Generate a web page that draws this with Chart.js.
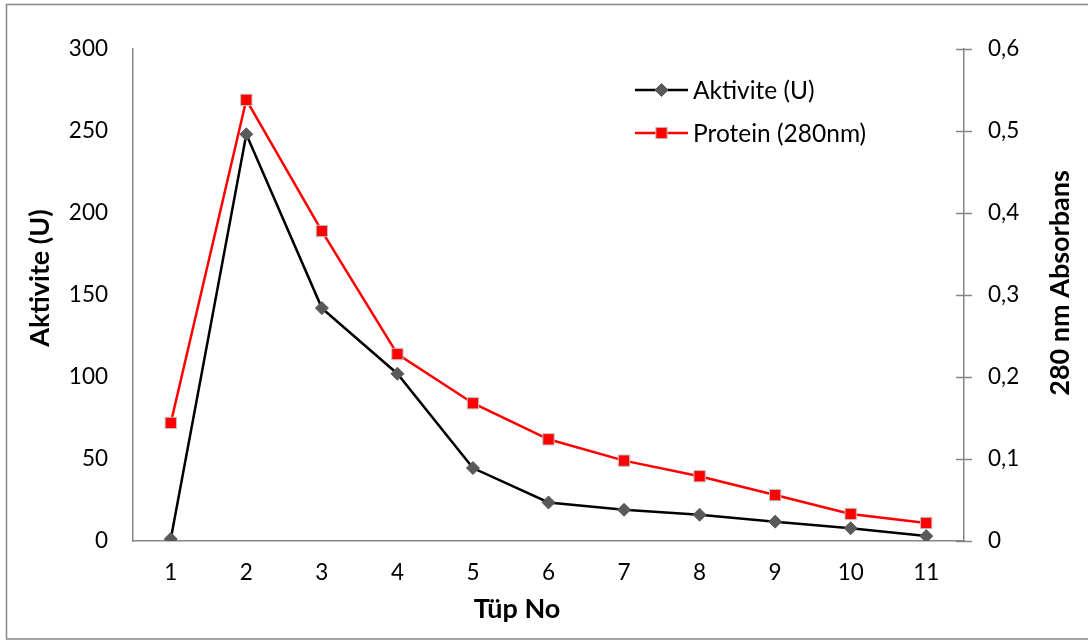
<!DOCTYPE html>
<html>
<head>
<meta charset="utf-8">
<script src="https://cdn.jsdelivr.net/npm/chart.js@4"></script>
<style>
  html, body { margin: 0; padding: 0; background: #fff; }
  #wrap { position: relative; width: 1088px; height: 641px; }
</style>
</head>
<body>
<div id="wrap"><canvas id="tupChart" width="1088" height="641"></canvas></div>
<script>
// tube numbers and the two measured series
const tupNo = ['1', '2', '3', '4', '5', '6', '7', '8', '9', '10', '11'];
const aktivite = [1.2, 248, 142, 102, 44.5, 23.5, 19, 16, 11.8, 7.8, 3];
const protein = [0.144, 0.538, 0.378, 0.228, 0.168, 0.124, 0.098, 0.079, 0.056, 0.033, 0.022];

const axisTitles = { x: 'Tüp No', y: 'Aktivite (U)', y1: '280 nm Absorbans' };

const axisGray = '#868686';
const fontName = 'Lato, "Open Sans", sans-serif';
const tickFont = { family: fontName, size: 22.5 };

// frame, crossing ticks on the right axis, axis titles and the legend
const extras = {
    id: 'extras',
    afterDraw(chart) {
        const c = chart.ctx;
        c.save();
        c.strokeStyle = axisGray;
        c.lineWidth = 1.5;
        c.strokeRect(6.5, 4.5, 1090, 634.5);

        const y1 = chart.scales.y1;
        c.beginPath();
        y1.ticks.forEach(t => {
            const py = Math.round(y1.getPixelForValue(t.value)) + 0.5;
            c.moveTo(y1.left - 8, py);
            c.lineTo(y1.left + 8, py);
        });
        c.stroke();

        // axis titles (both vertical ones read bottom to top)
        c.fillStyle = '#000';
        c.font = 'bold 27px ' + fontName;
        c.textAlign = 'center';
        c.textBaseline = 'middle';
        c.fillText(axisTitles.x, 517, 609);
        [[axisTitles.y, 40, 278], [axisTitles.y1, 1060, 283]].forEach(([txt, tx, ty]) => {
            c.save();
            c.translate(tx, ty);
            c.rotate(-Math.PI / 2);
            c.fillText(txt, 0, 0);
            c.restore();
        });

        // legend: line sample with its marker, then the label
        const lx = 635, ly = 90, rowGap = 43;
        chart.data.datasets.forEach((ds, i) => {
            const y = ly + i * rowGap;
            c.strokeStyle = ds.borderColor;
            c.lineWidth = ds.borderWidth;
            c.beginPath();
            c.moveTo(lx, y);
            c.lineTo(lx + 53, y);
            c.stroke();
            c.fillStyle = ds.pointBackgroundColor;
            c.strokeStyle = ds.pointBorderColor;
            c.lineWidth = ds.pointBorderWidth;
            Chart.helpers.drawPoint(c, {
                pointStyle: ds.pointStyle,
                radius: ds.pointRadius,
                borderWidth: ds.pointBorderWidth
            }, lx + 26.5, y);
            c.fillStyle = '#000';
            c.font = '24.5px ' + fontName;
            c.textBaseline = 'middle';
            c.textAlign = 'left';
            c.fillText(ds.label, lx + 58, y + 1);
        });
        c.restore();
    }
};

const ctx = document.getElementById('tupChart').getContext('2d');
const chart = new Chart(ctx, {
    type: 'line',
    data: {
        labels: tupNo,
        datasets: [{
            label: 'Aktivite (U)',
            data: aktivite,
            yAxisID: 'y',
            borderColor: '#000000',
            borderWidth: 2.5,
            pointStyle: 'rectRot',
            pointRadius: 6.5,
            pointBackgroundColor: '#595959',
            pointBorderColor: '#595959',
            pointBorderWidth: 1,
            tension: 0,
            order: 2
        }, {
            label: 'Protein (280nm)',
            data: protein,
            yAxisID: 'y1',
            borderColor: '#ff0000',
            borderWidth: 2.5,
            pointStyle: 'rect',
            pointRadius: 8,
            pointBackgroundColor: '#ff0000',
            pointBorderColor: '#c0c0c0',
            pointBorderWidth: 1,
            tension: 0,
            order: 1
        }]
    },
    options: {
        responsive: false,
        animation: false,
        layout: { padding: { top: 49, left: 0, right: 0, bottom: 0 } },
        plugins: {
            legend: { display: false },
            tooltip: { enabled: false }
        },
        scales: {
            x: {
                offset: true,
                grid: { display: false, drawTicks: false },
                border: { color: axisGray, width: 1.5 },
                ticks: { color: '#000', padding: 18.5, font: tickFont },
                afterFit(s) { s.height = 100; }
            },
            y: {
                position: 'left',
                min: 0, max: 300,
                grid: { display: false, drawTicks: false },
                border: { color: axisGray, width: 1.5 },
                ticks: { stepSize: 50, color: '#000', padding: 25, font: tickFont },
                afterFit(s) { s.width = 133; }
            },
            y1: {
                position: 'right',
                min: 0, max: 0.6,
                grid: { display: false, drawTicks: false },
                border: { color: axisGray, width: 1.5 },
                ticks: {
                    stepSize: 0.1, color: '#000', padding: 24,
                    font: tickFont,
                    callback: v => v === 0 ? '0' : v.toFixed(1).replace('.', ',')
                },
                afterFit(s) { s.width = 124; }
            }
        }
    },
    plugins: [extras]
});
</script>
</body>
</html>
